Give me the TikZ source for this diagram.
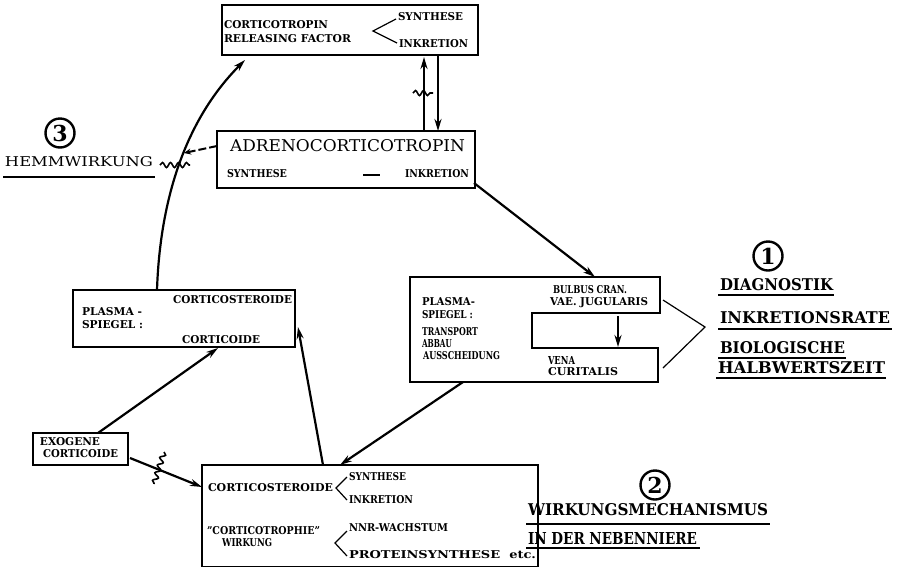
\documentclass[tikz,border=0pt]{standalone}
\usepackage{graphicx}
\usepackage{fontspec}
\setmainfont{DejaVu Serif}
\usetikzlibrary{arrows.meta,decorations.pathmorphing}
\newcommand{\tx}[3]{\resizebox{#1pt}{#2pt}{#3}}
\begin{document}
\begin{tikzpicture}[x=1pt,y=-1pt,
 box/.style={draw,line width=2pt,inner sep=0pt,outer sep=0pt},
 t/.style={inner sep=0pt,outer sep=0pt,anchor=west},
 sb/.style={t,font=\bfseries},
 tb/.style={t,font=\bfseries},
 thinl/.style={line width=1.2pt},
 conn/.style={line width=2.2pt,-{Stealth[length=12pt,width=7pt]}},
 circ/.style={circle,draw,line width=2.4pt,inner sep=0pt,minimum size=29pt,font=\bfseries\fontsize{22}{22}\selectfont},
 ul/.style={line width=1.5pt},
 squig/.style={line width=1.6pt,decorate,decoration={snake,segment length=8pt,amplitude=2.5pt}}
]
\useasboundingbox (0,0) rectangle (903,566);
% boxes
\node[box,minimum width=256pt,minimum height=50pt] (crf) at (350,30) {};
\node[box,minimum width=258pt,minimum height=57pt] (acth) at (346,159.5) {};
\node[box,minimum width=222pt,minimum height=57pt] (lps) at (184,318.5) {};
\node[box,minimum width=95pt,minimum height=32pt] (exo) at (80.5,449) {};
\node[box,minimum width=336pt,minimum height=102pt] (nnr) at (370,516) {};
\draw[line width=2pt] (410,277) -- (660,277) -- (660,313) -- (532,313) -- (532,348) -- (658,348) -- (658,382) -- (410,382) -- cycle;
% CRF texts
\node[sb] (crf1) at (224,25) {\tx{104}{8}{CORTICOTROPIN}};
\node[sb] (crf2) at (224,39) {\tx{127}{8}{RELEASING FACTOR}};
\node[sb] (crf3) at (398,17) {\tx{65}{8}{SYNTHESE}};
\node[sb] (crf4) at (399,44) {\tx{69}{8}{INKRETION}};
\draw[thinl] (396,19) -- (373,31) -- (397,43);
% ACTH texts
\node[t] (ac1) at (230,146) {\tx{235}{12}{ADRENOCORTICOTROPIN}};
\node[sb] (ac2) at (227,174) {\tx{60}{8}{SYNTHESE}};
\draw[line width=1.5pt] (363,175) -- (380,175);
\node[sb] (ac3) at (405,174) {\tx{64}{8}{INKRETION}};
% right box texts
\node[sb] (r1) at (422,302) {\tx{53}{8}{PLASMA-}};
\node[sb] (r2) at (422,315) {\tx{51}{8}{SPIEGEL :}};
\node[sb] (r3) at (422,332) {\tx{56}{8}{TRANSPORT}};
\node[sb] (r4) at (422,344) {\tx{30}{8}{ABBAU}};
\node[sb] (r5) at (423,356) {\tx{77}{8}{AUSSCHEIDUNG}};
\node[sb] (r6) at (553,290) {\tx{74}{8}{BULBUS CRAN.}};
\node[sb] (r7) at (550,303) {\tx{98}{8}{VAE. JUGULARIS}};
\node[sb] (r8) at (548,360) {\tx{27}{8}{VENA}};
\node[sb] (r9) at (548,372) {\tx{70}{8}{CURITALIS}};
\coordinate (nT) at (618,316);
\coordinate (nB) at (618,347);
\draw[conn] (nT) -- (nB);
\coordinate (g1) at (663,300);
\coordinate (g2) at (705,327);
\coordinate (g3) at (663,368);
\draw[thinl] (g1) -- (g2) -- (g3);
% left plasma box texts
\node[sb] (l1) at (173,300) {\tx{119}{8}{CORTICOSTEROIDE}};
\node[sb] (l2) at (82,312) {\tx{60}{8}{PLASMA -}};
\node[sb] (l3) at (82,325) {\tx{61}{8}{SPIEGEL :}};
\node[sb] (l4) at (182,340) {\tx{78}{8}{CORTICOIDE}};
% exogene
\node[sb] (e1) at (40,442) {\tx{60}{8}{EXOGENE}};
\node[sb] (e2) at (43,454) {\tx{75}{8}{CORTICOIDE}};
% bottom box
\node[sb] (b1) at (208,488) {\tx{125}{8}{CORTICOSTEROIDE}};
\draw[thinl] (347,477) -- (336,488) -- (347,500);
\node[sb] (b2) at (349,477) {\tx{57}{8}{SYNTHESE}};
\node[sb] (b3) at (349,500) {\tx{64}{8}{INKRETION}};
\node[sb] (b4) at (207,531) {\tx{113}{8}{"CORTICOTROPHIE"}};
\node[sb] (b5) at (222,543) {\tx{50}{8}{WIRKUNG}};
\draw[thinl] (347,531) -- (335,543) -- (347,556);
\node[sb] (b6) at (349,528) {\tx{99}{8}{NNR-WACHSTUM}};
\node[sb] (b7) at (349,555) {\tx{187}{8}{PROTEINSYNTHESE\ \ etc.}};
% right labels
\node[circ] (c1) at (768,256) {1};
\node[tb] (d1) at (720,285) {\tx{113}{12}{DIAGNOSTIK}};
\draw[ul] (718,295) -- (834,295);
\node[tb] (d2) at (720,318) {\tx{170}{12}{INKRETIONSRATE}};
\draw[ul] (718,329) -- (892,329);
\node[tb] (d3) at (720,348) {\tx{125}{12}{BIOLOGISCHE}};
\draw[ul] (718,358) -- (846,358);
\node[tb] (d4) at (718,368) {\tx{167}{12}{HALBWERTSZEIT}};
\draw[ul] (716,378) -- (886,378);
\node[circ] (c2) at (655,485) {2};
\node[tb] (w1) at (528,510) {\tx{240}{12}{WIRKUNGSMECHANISMUS}};
\draw[ul] (526,524) -- (770,524);
\node[tb] (w2) at (528,538) {\tx{169}{12}{IN DER NEBENNIERE}};
\draw[ul] (526,548) -- (700,548);
\node[circ] (c3) at (60,133) {3};
\node[t] (h1) at (5,162) {\tx{148}{10}{HEMMWIRKUNG}};
\draw[ul] (3,177) -- (155,177);
% connectors
\coordinate (crfin) at (245,60);
\coordinate (lpsout) at (157,290);
\draw[conn] (lpsout) .. controls (160,200) and (185,120) .. (crfin);
\coordinate (up1) at (424,131);
\coordinate (up2) at (424,57);
\coordinate (dn1) at (438,55);
\coordinate (dn2) at (438,131);
\draw[conn] (up1) -- (up2);
\draw[conn] (dn1) -- (dn2);
\draw[squig] (413,93) -- (433,93);
\coordinate (hA) at (217,146);
\coordinate (hB) at (184,153);
\draw[line width=2pt,dash pattern=on 8pt off 3pt,-{Stealth[length=7pt,width=6pt]}] (hA) -- (hB);
\draw[squig] (160,165) -- (190,165);
\coordinate (a1) at (474,183);
\coordinate (rbtop) at (595,277);
\draw[conn] (a1) -- (rbtop);
\coordinate (rbbl) at (463,382);
\coordinate (nnrtop) at (340,465);
\draw[conn] (rbbl) -- (nnrtop);
\coordinate (nnrtop2) at (323,465);
\coordinate (lpsr) at (298,327);
\draw[conn] (nnrtop2) -- (lpsr);
\coordinate (exotop) at (98,433);
\coordinate (lpsb) at (218,348);
\draw[conn] (exotop) -- (lpsb);
\coordinate (exor) at (130,458);
\coordinate (nnrl) at (202,487);
\draw[conn] (exor) -- (nnrl);
\draw[squig] (164,452) -- (154,484);
\end{tikzpicture}
\end{document}
